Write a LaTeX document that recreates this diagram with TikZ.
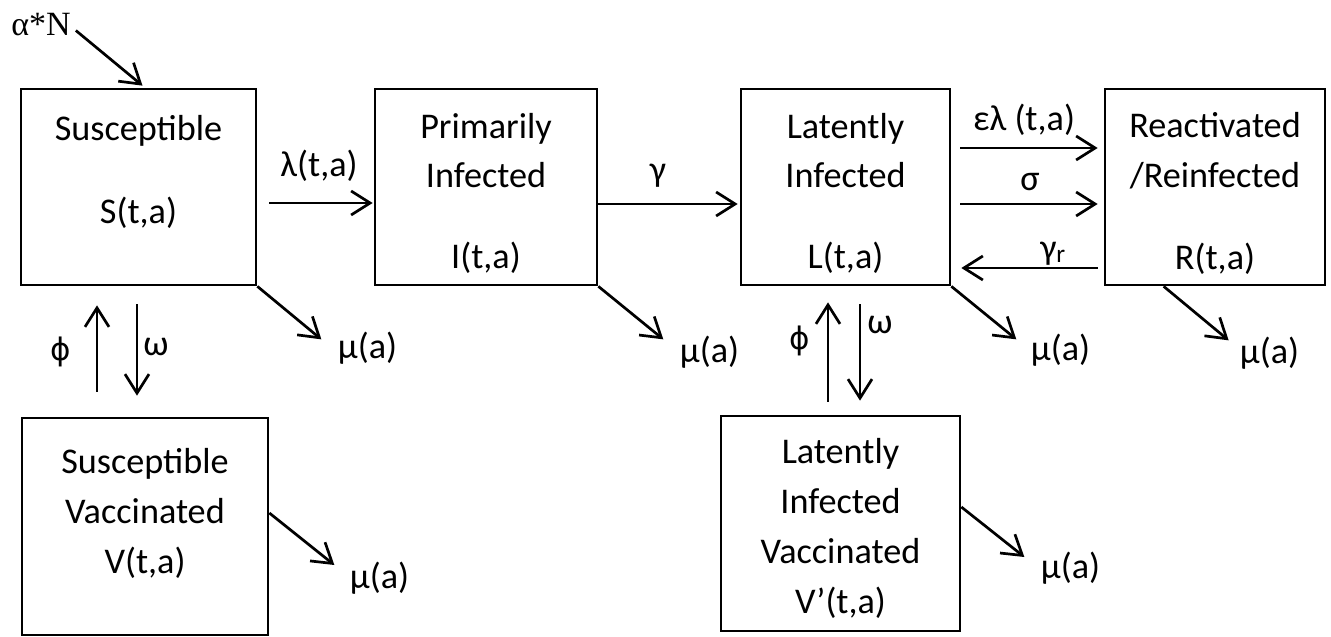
\documentclass[tikz,border=0pt]{standalone}
\usepackage{fontspec}
\setmainfont{Carlito}
\newfontfamily\serifA{Liberation Serif}
\newfontfamily\dejavu{DejaVu Sans}
\usetikzlibrary{arrows.meta,calc}
\tikzset{
  box/.style={draw, line width=2.7pt, inner sep=0pt},
  txt/.style={inner sep=0pt, anchor=base, font=\fontsize{36.2}{42}\selectfont},
  arr/.style={line width=2.7pt, -{Straight Barb[length=19pt,width=24pt]}}
}
\begin{document}
\begin{tikzpicture}[x=1pt,y=-1pt]
\useasboundingbox (0,0) rectangle (1331,637);
% boxes
\node[box, minimum width=235pt, minimum height=196pt] (S) at (138.5,187) {};
\node[box, minimum width=222pt, minimum height=196pt] (I) at (486,187) {};
\node[box, minimum width=209pt, minimum height=196pt] (L) at (845.5,187) {};
\node[box, minimum width=220pt, minimum height=196pt] (R) at (1215,187) {};
\node[box, minimum width=246pt, minimum height=217pt] (V) at (145,526.5) {};
\node[box, minimum width=239pt, minimum height=215pt] (Vp) at (840.5,523.5) {};
% box texts
\node[txt] (s1) at (138.5,140) {Susceptible};
\node[txt] (s2) at (138.5,223) {S(t,a)};
\node[txt] (i1) at (486,138) {Primarily};
\node[txt] (i2) at (486,187) {Infected};
\node[txt] (i3) at (486,268) {I(t,a)};
\node[txt] (l1) at (845.5,138) {Latently};
\node[txt] (l2) at (845.5,187) {Infected};
\node[txt] (l3) at (845.5,268) {L(t,a)};
\node[txt] (r1) at (1215,137) {Reactivated};
\node[txt] (r2) at (1215,187) {/Reinfected};
\node[txt] (r3) at (1215,269) {R(t,a)};
\node[txt] (v1) at (145,473) {Susceptible};
\node[txt] (v2) at (145,523) {Vaccinated};
\node[txt] (v3) at (145,573) {V(t,a)};
\node[txt] (w1) at (840.5,463) {Latently};
\node[txt] (w2) at (840.5,513) {Infected};
\node[txt] (w3) at (840.5,563) {Vaccinated};
\node[txt] (w4) at (840.5,613) {V’(t,a)};
% inflow
\node[inner sep=0pt, anchor=base, font=\serifA\fontsize{34}{40}\selectfont] (aN) at (41,35) {α*N};
\draw[arr] ($(aN.south east)+(5,-5)$) -- ($(S.north)+(4,-2)$);
% horizontal flows
\node[txt] (lam) at (319,176) {λ(t,a)};
\draw[arr] ($(S.east)+(12,16)$) -- ($(I.west)+(-1,16)$);
\node[txt] (gam) at (658,181) {γ};
\draw[arr] ($(I.east)+(0,17)$) -- ($(L.west)+(-2,17)$);
\node[txt] (elam) at (1024,130) {ελ (t,a)};
\draw[arr] ($(L.east)+(9,-39)$) -- ($(R.west)+(-6,-39)$);
\node[txt] (sig) at (1030,190) {σ};
\draw[arr] ($(L.east)+(9,17)$) -- ($(R.west)+(-6,17)$);
\node[txt] (gr) at (1053,259) {γ\textsubscript{r}};
\draw[arr] ($(R.west)+(-6,81)$) -- ($(L.east)+(10,81)$);
% vaccination flows
\node[txt, font=\dejavu\fontsize{31}{36}\selectfont] (ph1) at (61,360) {ϕ};
\node[txt] (om1) at (156,355) {ω};
\draw[arr] ($(V.north)+(-48,-25)$) -- ($(S.south)+(-41.5,19)$);
\draw[arr] ($(S.south)+(-1.5,18)$) -- ($(V.north)+(-8,-21)$);
\node[txt, font=\dejavu\fontsize{31}{36}\selectfont] (ph2) at (800,349) {ϕ};
\node[txt] (om2) at (880,333) {ω};
\draw[arr] ($(Vp.north)+(-12.5,-13)$) -- ($(L.south)+(-17.5,16)$);
\draw[arr] ($(L.south)+(14.5,18)$) -- ($(Vp.north)+(19.5,-14)$);
% deaths
\node[txt] (m1) at (367.5,358) {μ(a)};
\draw[arr] (S.south east) -- ++(64,53);
\node[txt] (m2) at (709.5,362) {μ(a)};
\draw[arr] (I.south east) -- ++(65,53);
\node[txt] (m3) at (1060.5,360) {μ(a)};
\draw[arr] (L.south east) -- ++(65,53);
\node[txt] (m4) at (1269.5,363) {μ(a)};
\draw[arr] ($(R.south west)+(60,0)$) -- ++(65,54);
\node[txt] (m5) at (379.5,588) {μ(a)};
\draw[arr] ($(V.east)+(0,-13.5)$) -- ++(65,52);
\node[txt] (m6) at (1070.5,578) {μ(a)};
\draw[arr] ($(Vp.east)+(0,-16.5)$) -- ++(63,50);
\end{tikzpicture}
\end{document}
